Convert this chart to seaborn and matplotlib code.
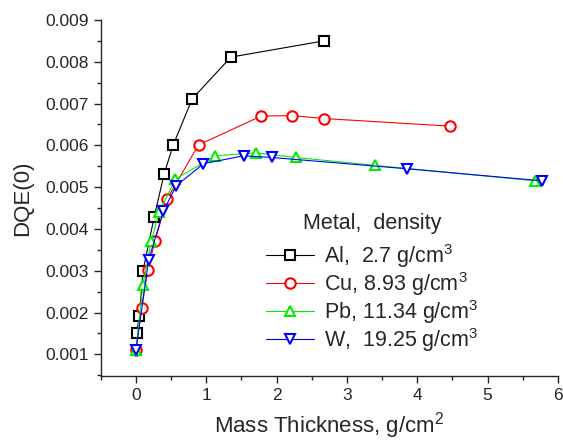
import matplotlib
matplotlib.use("Agg")
import matplotlib.pyplot as plt
import seaborn as sns
import pandas as pd
from matplotlib.ticker import MultipleLocator

al_x = [0.01, 0.05, 0.10, 0.26, 0.40, 0.53, 0.80, 1.35, 2.68]
al_y = [0.00152, 0.00192, 0.00300, 0.00429, 0.00531, 0.00601, 0.00711, 0.00811, 0.00850]
cu_x = [0.0, 0.08, 0.17, 0.27, 0.44, 0.89, 1.78, 2.22, 2.68, 4.46]
cu_y = [0.00110, 0.00212, 0.00303, 0.00371, 0.00471, 0.00601, 0.00670, 0.00671, 0.00664, 0.00646]
pb_x = [0.0, 0.10, 0.22, 0.33, 0.56, 1.13, 1.70, 2.27, 3.40, 5.68]
pb_y = [0.00110, 0.00267, 0.00372, 0.00440, 0.00519, 0.00575, 0.00582, 0.00571, 0.00552, 0.00515]
w_x = [0.0, 0.18, 0.39, 0.57, 0.96, 1.53, 1.93, 3.85, 5.78]
w_y = [0.00110, 0.00326, 0.00442, 0.00503, 0.00556, 0.00575, 0.00571, 0.00544, 0.00515]

labels = ["Al,  2.7 g/cm$^3$", "Cu, 8.93 g/cm$^3$", "Pb, 11.34 g/cm$^3$", "W,  19.25 g/cm$^3$"]
colors = ["black", "#ff0000", "#00ee00", "#0000ff"]
markers = ["s", "o", "^", "v"]
series = [(al_x, al_y), (cu_x, cu_y), (pb_x, pb_y), (w_x, w_y)]
yticks = [0.001, 0.002, 0.003, 0.004, 0.005, 0.006, 0.007, 0.008, 0.009]
yticklabels = ["0.001", "0.002", "0.003", "0.004", "0.005", "0.006", "0.007", "0.008", "0.009"]

sns.set_style("ticks")
plt.rcParams["font.family"] = ["Liberation Sans", "DejaVu Sans"]
plt.rcParams["mathtext.fontset"] = "custom"
plt.rcParams["mathtext.rm"] = "Liberation Sans"
plt.rcParams["mathtext.it"] = "Liberation Sans"

fig = plt.figure(figsize=(5.63, 4.42), dpi=100)
ax = fig.add_axes([0.179, 0.149, 0.812, 0.806])

for (xs, ys), lab, c, m in zip(series, labels, colors, markers):
    df = pd.DataFrame({"x": xs, "y": ys})
    sns.lineplot(data=df, x="x", y="y", ax=ax, sort=False, color=c, marker=m,
                 markersize=7.5, markerfacecolor="white", markeredgecolor=c,
                 markeredgewidth=1.5, linewidth=0.8, label=lab)

ax.set_xlim(-0.5, 6)
ax.set_ylim(0.00048, 0.009)
ax.xaxis.set_major_locator(MultipleLocator(1))
ax.xaxis.set_minor_locator(MultipleLocator(0.5))
ax.yaxis.set_minor_locator(MultipleLocator(0.0005))
ax.set_yticks(yticks)
ax.set_yticklabels(yticklabels)
ax.tick_params(axis="both", which="major", labelsize=12.5, length=5, width=1, direction="out")
ax.tick_params(axis="both", which="minor", length=3, width=1, direction="out")
for s in ["top", "right"]:
    ax.spines[s].set_visible(False)
for s in ["left", "bottom"]:
    ax.spines[s].set_linewidth(1)

ax.set_xlabel("Mass Thickness, g/cm$^2$", fontsize=16, labelpad=5)
ax.set_ylabel("DQE(0)", fontsize=16, labelpad=9)

leg = ax.legend(loc="upper left", bbox_to_anchor=(0.362, 0.459), frameon=False,
                fontsize=15.5, title="Metal,  density", title_fontsize=15.5,
                handlelength=2.2, handletextpad=0.5, labelspacing=0.0,
                borderaxespad=0, borderpad=0)
leg._legend_box.sep = 6

fig.savefig("out.png", dpi=100)
